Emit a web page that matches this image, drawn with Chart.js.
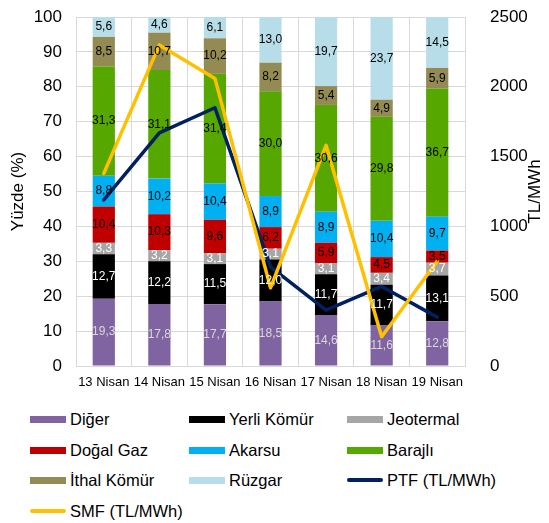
<!DOCTYPE html>
<html>
<head>
    <meta charset="utf-8">
    <title>Üretim Dağılımı ve Fiyatlar</title>
    <script src="https://cdn.jsdelivr.net/npm/chart.js@4.4.0/dist/chart.umd.min.js"></script>
    <style>
        body {
            margin: 0;
            background: #fff;
            font-family: Arial, 'Liberation Sans', sans-serif;
        }
        .wrap {
            position: relative;
            width: 549px;
            height: 523px;
        }
        #chart {
            position: absolute;
            left: 0;
            top: 0;
        }
        .legend-item {
            position: absolute;
            height: 20px;
            display: flex;
            align-items: center;
            font-size: 16.5px;
            color: #000;
            white-space: nowrap;
        }
        .swatch {
            width: 36px;
            height: 7px;
            margin-right: 4px;
        }
        .swatch.line {
            height: 4px;
            border-radius: 2px;
        }
    </style>
</head>
<body>
    <div class="wrap">
        <canvas id="chart" width="549" height="398"></canvas>
        <div id="legend"></div>
    </div>

    <script>
        // categories
        const days = ['13 Nisan', '14 Nisan', '15 Nisan', '16 Nisan', '17 Nisan', '18 Nisan', '19 Nisan'];

        // generation shares (%), bottom to top
        const diger      = [19.3, 17.8, 17.7, 18.5, 14.6, 11.6, 12.8];
        const yerliKomur = [12.7, 12.2, 11.5, 12.0, 11.7, 11.7, 13.1];
        const jeotermal  = [3.3, 3.2, 3.1, 3.1, 3.1, 3.4, 3.7];
        const dogalGaz   = [10.4, 10.3, 9.6, 6.2, 5.9, 4.5, 3.5];
        const akarsu     = [8.8, 10.2, 10.4, 8.9, 8.9, 10.4, 9.7];
        const barajli    = [31.3, 31.1, 31.4, 30.0, 30.6, 29.8, 36.7];
        const ithalKomur = [8.5, 10.7, 10.2, 8.2, 5.4, 4.9, 5.9];
        const ruzgar     = [5.6, 4.6, 6.1, 13.0, 19.7, 23.7, 14.5];

        // prices (TL/MWh)
        const ptf = [1190, 1670, 1850, 710, 400, 570, 350];
        const smf = [1380, 2300, 2060, 560, 1580, 210, 750];

        // tick settings
        const pctTicks = [0, 100, 10];
        const priceTicks = [0, 2500, 500];

        const FONT = "Arial, 'Liberation Sans', sans-serif";
        const GRID = '#D9D9D9';

        function barSet(label, data, color, labelColor) {
            return {
                type: 'bar',
                label: label,
                data: data,
                backgroundColor: color,
                labelColor: labelColor,
                stack: 'gen',
                yAxisID: 'y',
                order: 2,
                barPercentage: 0.4,
                categoryPercentage: 1
            };
        }

        function lineSet(label, data, color, width, order) {
            return {
                type: 'line',
                label: label,
                data: data,
                borderColor: color,
                backgroundColor: color,
                borderWidth: width,
                pointRadius: 0,
                borderJoinStyle: 'round',
                borderCapStyle: 'round',
                tension: 0,
                yAxisID: 'y1',
                order: order
            };
        }

        const datasets = [
            barSet('Diğer', diger, '#8064A2', '#D9D9D9'),
            barSet('Yerli Kömür', yerliKomur, '#000000', '#FFFFFF'),
            barSet('Jeotermal', jeotermal, '#A6A6A6', '#FFFFFF'),
            barSet('Doğal Gaz', dogalGaz, '#C00000', '#000000'),
            barSet('Akarsu', akarsu, '#00B0F0', '#000000'),
            barSet('Barajlı', barajli, '#56A700', '#000000'),
            barSet('İthal Kömür', ithalKomur, '#948A54', '#000000'),
            barSet('Rüzgar', ruzgar, '#B7DEE8', '#000000'),
            lineSet('PTF (TL/MWh)', ptf, '#002060', 3.5, 1),
            lineSet('SMF (TL/MWh)', smf, '#FFC000', 3.5, 0)
        ];

        // segment labels + axis titles
        const segLabels = {
            id: 'segLabels',
            afterDatasetsDraw(chart) {
                const c = chart.ctx;
                c.save();
                c.font = '12px ' + FONT;
                c.textAlign = 'center';
                c.textBaseline = 'middle';
                chart.data.datasets.forEach((ds, i) => {
                    if (ds.type !== 'bar') return;
                    const meta = chart.getDatasetMeta(i);
                    meta.data.forEach((el, j) => {
                        c.fillStyle = ds.labelColor;
                        c.fillText(ds.data[j].toFixed(1).replace('.', ','), el.x, (el.y + el.base) / 2);
                    });
                });

                const area = chart.chartArea;
                const midY = (area.top + area.bottom) / 2;
                c.fillStyle = '#000';
                c.font = '17px ' + FONT;
                c.translate(18, midY);
                c.rotate(-Math.PI / 2);
                c.fillText('Yüzde (%)', 0, 0);
                c.restore();

                c.save();
                c.fillStyle = '#000';
                c.font = '17px ' + FONT;
                c.textAlign = 'center';
                c.textBaseline = 'middle';
                c.translate(535, midY);
                c.rotate(-Math.PI / 2);
                c.fillText('TL/MWh', 0, 0);
                c.restore();
            }
        };

        const chart = new Chart(document.getElementById('chart'), {
            type: 'bar',
            data: { labels: days, datasets: datasets },
            options: {
                responsive: false,
                animation: false,
                layout: { padding: { top: 17, left: 0, right: 0, bottom: 0 } },
                plugins: {
                    legend: { display: false },
                    tooltip: { enabled: false }
                },
                scales: {
                    x: {
                        stacked: true,
                        offset: true,
                        grid: { offset: true, color: GRID, drawTicks: false },
                        border: { color: GRID },
                        ticks: {
                            color: '#000',
                            font: { family: FONT, size: 13 },
                            padding: 9,
                            maxRotation: 0,
                            autoSkip: false
                        },
                        afterFit: s => { s.height = 32; }
                    },
                    y: {
                        stacked: true,
                        position: 'left',
                        min: pctTicks[0],
                        max: pctTicks[1],
                        grid: { color: GRID, drawTicks: false },
                        border: { color: GRID },
                        ticks: {
                            stepSize: pctTicks[2],
                            color: '#000',
                            font: { family: FONT, size: 17 },
                            padding: 14
                        },
                        afterFit: s => { s.width = 76; s.paddingTop = 0; s.paddingBottom = 0; }
                    },
                    y1: {
                        position: 'right',
                        min: priceTicks[0],
                        max: priceTicks[1],
                        grid: { display: false, drawOnChartArea: false },
                        border: { display: false },
                        ticks: {
                            stepSize: priceTicks[2],
                            color: '#000',
                            font: { family: FONT, size: 17 },
                            padding: 17,
                            callback: v => String(v)
                        },
                        afterFit: s => { s.width = 84; s.paddingTop = 0; s.paddingBottom = 0; }
                    }
                }
            },
            plugins: [segLabels]
        });

        // HTML legend, three columns
        const legend = document.getElementById('legend');
        const colX = [30, 189, 347];
        const rowY = [419, 450, 480, 511];
        datasets.forEach((ds, i) => {
            const item = document.createElement('div');
            item.className = 'legend-item';
            item.style.left = colX[i % 3] + 'px';
            item.style.top = (rowY[Math.floor(i / 3)] - 10) + 'px';
            const sw = document.createElement('span');
            sw.className = ds.type === 'line' ? 'swatch line' : 'swatch';
            sw.style.background = ds.type === 'line' ? ds.borderColor : ds.backgroundColor;
            const tx = document.createElement('span');
            tx.textContent = ds.label;
            item.appendChild(sw);
            item.appendChild(tx);
            legend.appendChild(item);
        });
    </script>
</body>
</html>
